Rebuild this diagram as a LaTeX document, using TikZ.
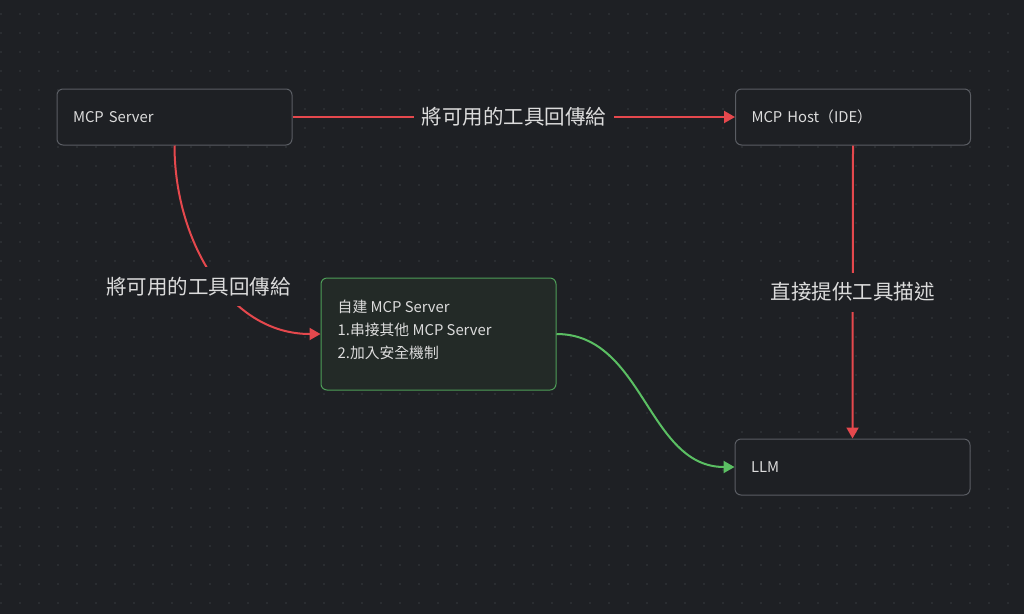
\documentclass[tikz,border=0pt]{standalone}
\usepackage{fontspec}
\setmainfont{Noto Sans CJK TC}
\usetikzlibrary{arrows.meta,positioning}

\definecolor{bgcol}{HTML}{1E2024}
\definecolor{dotcol}{HTML}{383B40}
\definecolor{edgecol}{HTML}{5A5D63}
\definecolor{txtcol}{HTML}{DCDCDC}
\definecolor{redcol}{HTML}{E5484D}
\definecolor{greencol}{HTML}{5BBF63}
\definecolor{boxgreen}{HTML}{4E9E58}
\definecolor{boxgreenfill}{HTML}{232A27}

\tikzset{
  card/.style={draw=edgecol, line width=1pt, rounded corners=6pt, fill=bgcol,
    minimum width=235pt, minimum height=56pt, text width=203pt, align=left,
    inner xsep=16pt, text=txtcol, font=\fontsize{14.8}{23}\selectfont},
  greencard/.style={card, draw=boxgreen, fill=boxgreenfill, minimum height=112pt},
  redline/.style={draw=redcol, line width=2pt, -{Triangle[length=11pt,width=12pt]}},
  greenline/.style={draw=greencol, line width=2pt, -{Triangle[length=11pt,width=12pt]}},
  tag/.style={fill=bgcol, text=txtcol, inner xsep=8pt, inner ysep=10pt,
    font=\fontsize{20.5}{24}\selectfont}
}

\begin{document}
\begin{tikzpicture}[x=1pt, y=-1pt]
\fill[bgcol] (0,0) rectangle (1024,614);
\useasboundingbox (0,0) rectangle (1024,614);
% dotted grid
\foreach \i in {0,...,53} {
  \foreach \j in {0,...,31} {
    \fill[dotcol] (1+19*\i,14+19*\j) circle (0.8pt);
  }
}
\node[card] (server) at (174.5,117) {MCP Server};
\node[card] (host) at (853,117) {MCP Host（IDE）};
\node[greencard] (custom) at (438.5,334) {};
\node[anchor=north west, align=left, text=txtcol, inner sep=0pt,
  font=\fontsize{14.8}{23}\selectfont] (customtext) at ([xshift=17pt,yshift=-22pt]custom.north west)
  {自建 MCP Server\\1.串接其他 MCP Server\\2.加入安全機制};
\node[card] (llm) at (852.5,467) {LLM};

\draw[redline] (server.east) -- node[tag] (toptag) {將可用的工具回傳給} (host.west);
\draw[redline] (host.south) -- node[tag] (sidetag) {直接提供工具描述} (llm.north);
\draw[redline] (server.south) to[out=-90, in=180]
  node[tag, pos=0.5, xshift=-14pt, yshift=-12pt] (lefttag) {將可用的工具回傳給} (custom.west);
\draw[greenline] (custom.east) to[out=0, in=180] (llm.west);
\end{tikzpicture}
\end{document}
